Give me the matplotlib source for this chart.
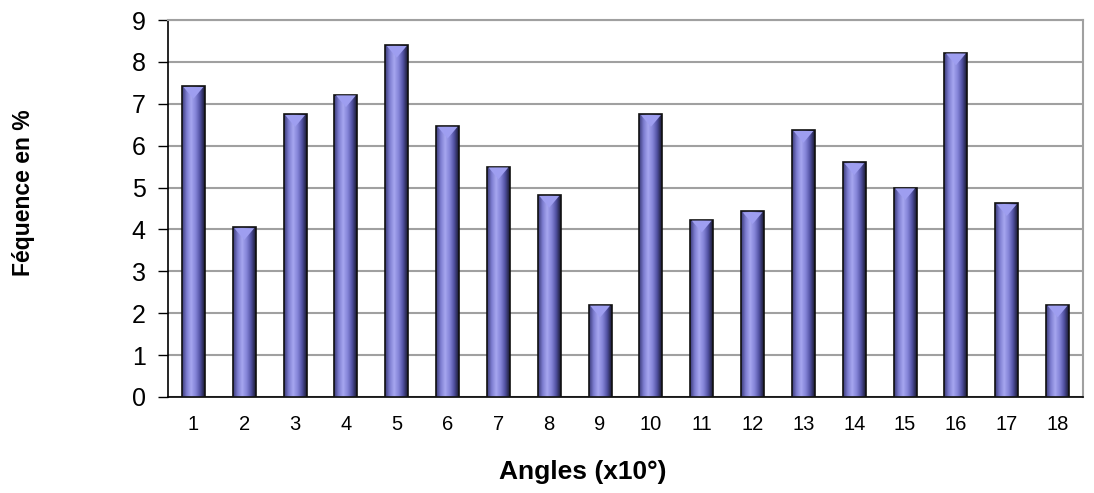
import matplotlib.pyplot as plt
import numpy as np
from matplotlib.colors import LinearSegmentedColormap
from matplotlib.patches import Rectangle, Polygon

plt.rcParams['font.family'] = ['Liberation Sans', 'DejaVu Sans']

angles = list(range(1, 19))
frequence = [7.42, 4.05, 6.75, 7.22, 8.40, 6.47, 5.50, 4.82, 2.20,
             6.75, 4.23, 4.43, 6.37, 5.60, 5.00, 8.22, 4.62, 2.20]

fig = plt.figure(figsize=(10.94, 4.93), dpi=100)
ax = fig.add_axes([168 / 1094, 1 - 397 / 493, (1083 - 168) / 1094, (397 - 20) / 493])

# cylinder-like shading across each bar
shade = LinearSegmentedColormap.from_list(
    'cyl', ['#3a3a78', '#7d7dd0', '#a6a6f0', '#8484d8', '#5050a0', '#181830'])
grad = np.linspace(0, 1, 64).reshape(1, -1)

width = 0.45
for x, v in zip(angles, frequence):
    left = x - width / 2
    im = ax.imshow(grad, cmap=shade, aspect='auto', zorder=3,
                   extent=(left, left + width, 0, v))
    rect = Rectangle((left, 0), width, v, facecolor='none', edgecolor='#111111',
                     linewidth=1.2, zorder=4)
    ax.add_patch(rect)
    im.set_clip_path(rect)
    # light cap at the top of each bar
    cap = Polygon([(left + 0.03, v - 0.02), (left + width - 0.03, v - 0.02),
                   (x, v - 0.3)], closed=True, facecolor='#9e9ef0',
                  edgecolor='none', zorder=4)
    ax.add_patch(cap)

ax.set_xlim(0.5, 18.5)
ax.set_ylim(0, 9)
ax.set_yticks(range(0, 10))
ax.set_xticks(angles)
ax.set_xticklabels([str(a) for a in angles], fontsize=14.5)
ax.tick_params(axis='y', labelsize=18, length=7, width=1, color='black', pad=9)
ax.tick_params(axis='x', length=0, pad=13)

ax.yaxis.grid(True, color='#a0a0a0', linewidth=1.5, zorder=0)
ax.set_axisbelow(True)
for side in ['top', 'right']:
    ax.spines[side].set_color('#a0a0a0')
    ax.spines[side].set_linewidth(1.5)
for side in ['left', 'bottom']:
    ax.spines[side].set_color('black')
    ax.spines[side].set_linewidth(1.2)

fig.text(583 / 1094, 1 - 479 / 493, 'Angles (x10°)', ha='center', va='baseline',
         fontsize=19, fontweight='bold')
fig.text(24 / 1094, 1 - 193 / 493, 'Féquence en %', ha='center', va='center',
         rotation=90, fontsize=16.5, fontweight='bold')

fig.savefig('out.png', dpi=100)
